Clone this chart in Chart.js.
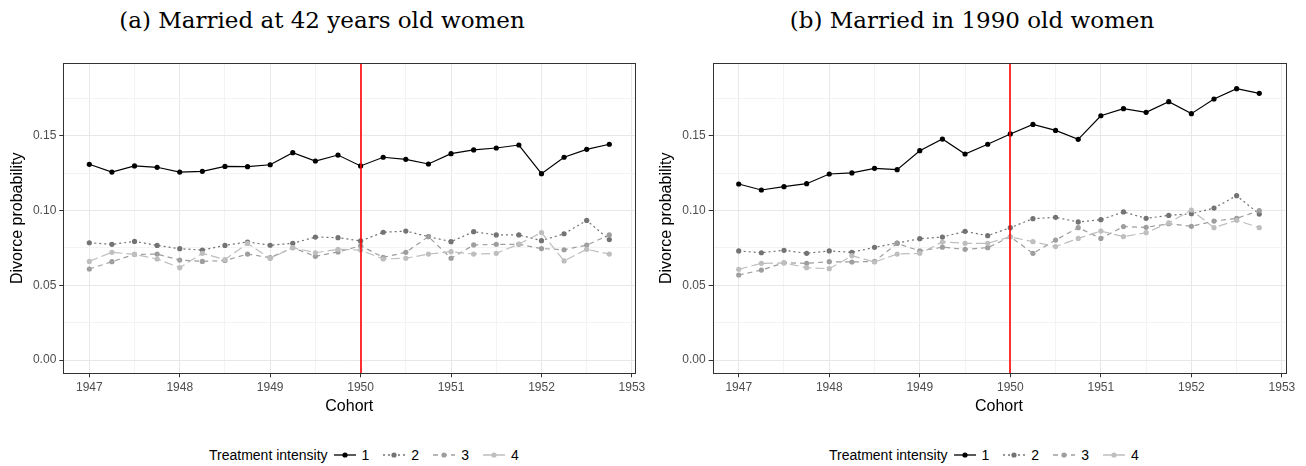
<!DOCTYPE html>
<html>
<head>
<meta charset="utf-8">
<script src="https://cdn.jsdelivr.net/npm/chart.js@4.4.1/dist/chart.umd.min.js"></script>
<style>
  body { margin: 0; width: 1306px; height: 466px; background: #fff; position: relative; overflow: hidden;
         font-family: "Liberation Sans", Arial, sans-serif; }
  .titulo { position: absolute; top: 7px; width: 600px; text-align: center;
            font-family: "DejaVu Serif", "Liberation Serif", serif; font-size: 23px; color: #000; }
  .panel { position: absolute; top: 40px; }
  .leyenda { position: absolute; top: 446px; height: 18px; font-size: 14px; color: #000;
             display: flex; align-items: center; white-space: nowrap; }
  .leyenda svg { margin: 0 6px 0 6px; }
  .leyenda span.lbl { margin-right: 8px; }
</style>
</head>
<body>
<div class="titulo" style="left:22px;">(a) Married at 42 years old women</div>
<div class="titulo" style="left:672px;">(b) Married in 1990 old women</div>

<canvas id="cntPanelA" class="panel" style="left:0px;" width="653" height="376"></canvas>
<canvas id="cntPanelB" class="panel" style="left:649px;" width="657" height="376"></canvas>

<div class="leyenda" id="leyA" style="left:209px;"></div>
<div class="leyenda" id="leyB" style="left:829px;"></div>

<script>
// cohortes trimestrales
const cohorts = [1947, 1947.25, 1947.5, 1947.75, 1948, 1948.25, 1948.5, 1948.75,
                 1949, 1949.25, 1949.5, 1949.75, 1950, 1950.25, 1950.5, 1950.75,
                 1951, 1951.25, 1951.5, 1951.75, 1952, 1952.25, 1952.5, 1952.75];

const xTicks = [1947, 1947.5, 1948, 1948.5, 1949, 1949.5, 1950, 1950.5, 1951, 1951.5, 1952, 1952.5, 1953];
const yTicks = [0, 0.025, 0.05, 0.075, 0.1, 0.125, 0.15, 0.175];
const treatmentYear = 1950;
const intensityLabels = ['1', '2', '3', '4'];

// (a) casadas a los 42
const a1 = [0.1310, 0.1258, 0.1299, 0.1290, 0.1258, 0.1263, 0.1296, 0.1294, 0.1307, 0.1388, 0.1332, 0.1372,
            0.1299, 0.1357, 0.1343, 0.1312, 0.1381, 0.1406, 0.1419, 0.1439, 0.1247, 0.1357, 0.1410, 0.1444];
const a2 = [0.0785, 0.0774, 0.0794, 0.0767, 0.0745, 0.0736, 0.0767, 0.0790, 0.0768, 0.0781, 0.0823, 0.0819,
            0.0797, 0.0855, 0.0863, 0.0826, 0.0792, 0.0859, 0.0837, 0.0837, 0.0799, 0.0845, 0.0934, 0.0806];
const a3 = [0.0609, 0.0658, 0.0707, 0.0709, 0.0669, 0.0660, 0.0666, 0.0709, 0.0685, 0.0752, 0.0694, 0.0723,
            0.0765, 0.0687, 0.0721, 0.0826, 0.0681, 0.0770, 0.0774, 0.0774, 0.0746, 0.0738, 0.0769, 0.0837];
const a4 = [0.0660, 0.0721, 0.0707, 0.0676, 0.0618, 0.0714, 0.0672, 0.0780, 0.0680, 0.0752, 0.0718, 0.0741,
            0.0736, 0.0676, 0.0681, 0.0709, 0.0725, 0.0709, 0.0714, 0.0776, 0.0853, 0.0663, 0.0741, 0.0709];

// (b) casadas en 1990
const b1 = [0.1178, 0.1138, 0.1160, 0.1180, 0.1245, 0.1252, 0.1283, 0.1274, 0.1401, 0.1479, 0.1379, 0.1444,
            0.1513, 0.1577, 0.1537, 0.1477, 0.1635, 0.1682, 0.1658, 0.1729, 0.1649, 0.1747, 0.1816, 0.1785];
const b2 = [0.0730, 0.0718, 0.0734, 0.0714, 0.0730, 0.0721, 0.0754, 0.0783, 0.0812, 0.0823, 0.0861, 0.0832,
            0.0886, 0.0946, 0.0955, 0.0924, 0.0939, 0.0991, 0.0948, 0.0968, 0.0979, 0.1017, 0.1100, 0.0977];
const b3 = [0.0569, 0.0602, 0.0651, 0.0647, 0.0658, 0.0656, 0.0660, 0.0780, 0.0730, 0.0755, 0.0741, 0.0752,
            0.0825, 0.0714, 0.0803, 0.0886, 0.0814, 0.0893, 0.0888, 0.0912, 0.0895, 0.0930, 0.0948, 0.1000];
const b4 = [0.0607, 0.0647, 0.0650, 0.0618, 0.0611, 0.0698, 0.0656, 0.0709, 0.0714, 0.0790, 0.0781, 0.0781,
            0.0825, 0.0792, 0.0759, 0.0814, 0.0863, 0.0826, 0.0852, 0.0918, 0.1004, 0.0886, 0.0935, 0.0886];

const estilos = [
  { color: '#000000', dash: [] },
  { color: '#737373', dash: [2, 3] },
  { color: '#9e9e9e', dash: [5, 4] },
  { color: '#bebebe', dash: [9, 4] }
];

const esMayor = (v, paso) => Math.abs(v / paso - Math.round(v / paso)) < 1e-6;

const marcoPlugin = {
  id: 'marco',
  afterDatasetsDraw(chart) {
    const { ctx, chartArea: ca, scales } = chart;
    const xr = Math.round(scales.x.getPixelForValue(treatmentYear));
    ctx.save();
    ctx.strokeStyle = '#ff0000';
    ctx.lineWidth = 1.6;
    ctx.beginPath();
    ctx.moveTo(xr, ca.top);
    ctx.lineTo(xr, ca.bottom);
    ctx.stroke();
    ctx.strokeStyle = '#333333';
    ctx.lineWidth = 1;
    ctx.strokeRect(Math.round(ca.left) + 0.5, Math.round(ca.top) + 0.5,
                   Math.round(ca.right - ca.left), Math.round(ca.bottom - ca.top));
    ctx.restore();
  }
};

function crearPanel(idCanvas, series, anchoY, padDer) {
  const datasets = series.map(function (vals, i) {
    return {
      label: intensityLabels[i],
      data: cohorts.map((c, j) => ({ x: c, y: vals[j] })),
      borderColor: estilos[i].color,
      backgroundColor: estilos[i].color,
      borderDash: estilos[i].dash,
      borderWidth: 1.2,
      pointRadius: 2.6,
      pointBorderWidth: 0,
      pointBackgroundColor: estilos[i].color,
      tension: 0
    };
  }).reverse();

  const ctx = document.getElementById(idCanvas).getContext('2d');
  return new Chart(ctx, {
    type: 'line',
    data: { datasets: datasets },
    options: {
      responsive: false,
      animation: false,
      layout: { padding: { left: 0, top: 23.3, right: padDer, bottom: 0 } },
      plugins: { legend: { display: false }, tooltip: { enabled: false } },
      scales: {
        x: {
          type: 'linear',
          min: 1946.7125,
          max: 1953.0375,
          afterBuildTicks: sc => { sc.ticks = xTicks.map(v => ({ value: v })); },
          afterFit: sc => { sc.height = 42.7; },
          ticks: {
            autoSkip: false, maxRotation: 0, padding: 3,
            color: '#4d4d4d', font: { family: 'Liberation Sans', size: 12 },
            callback: v => esMayor(v, 1) ? String(v) : ''
          },
          grid: {
            color: c => (c.tick && esMayor(c.tick.value, 1)) ? '#e8e8e8' : '#f3f3f3',
            tickColor: c => (c.tick && esMayor(c.tick.value, 1)) ? '#333333' : 'rgba(0,0,0,0)',
            tickLength: 4, lineWidth: 1
          },
          border: { display: false },
          title: { display: true, text: 'Cohort', color: '#000', padding: 0,
                   font: { family: 'Liberation Sans', size: 16 } }
        },
        y: {
          type: 'linear',
          min: -0.0089,
          max: 0.1986,
          afterBuildTicks: sc => { sc.ticks = yTicks.map(v => ({ value: v })); },
          afterFit: sc => { sc.width = anchoY; },
          ticks: {
            autoSkip: false, padding: 3,
            color: '#4d4d4d', font: { family: 'Liberation Sans', size: 12 },
            callback: v => esMayor(v, 0.05) ? v.toFixed(2) : ''
          },
          grid: {
            color: c => (c.tick && esMayor(c.tick.value, 0.05)) ? '#e8e8e8' : '#f3f3f3',
            tickColor: c => (c.tick && esMayor(c.tick.value, 0.05)) ? '#333333' : 'rgba(0,0,0,0)',
            tickLength: 4, lineWidth: 1
          },
          border: { display: false },
          title: { display: true, text: 'Divorce probability', color: '#000',
                   padding: { top: 8, bottom: 0 },
                   font: { family: 'Liberation Sans', size: 16 } }
        }
      }
    },
    plugins: [marcoPlugin]
  });
}

function crearLeyenda(idDiv) {
  let html = '<span>Treatment intensity</span>';
  estilos.forEach(function (e, i) {
    html += '<svg width="22" height="10"><line x1="0" y1="5" x2="22" y2="5" stroke="' + e.color +
            '" stroke-width="1.3" stroke-dasharray="' + (e.dash.length ? e.dash.join(',') : 'none') + '"/>' +
            '<circle cx="11" cy="5" r="2.6" fill="' + e.color + '"/></svg><span class="lbl">' + intensityLabels[i] + '</span>';
  });
  document.getElementById(idDiv).innerHTML = html;
}

window.graficaA = crearPanel('cntPanelA', [a1, a2, a3, a4], 63.3, 17.7);
window.graficaB = crearPanel('cntPanelB', [b1, b2, b3, b4], 63.7, 20.7);
crearLeyenda('leyA');
crearLeyenda('leyB');
</script>
</body>
</html>
